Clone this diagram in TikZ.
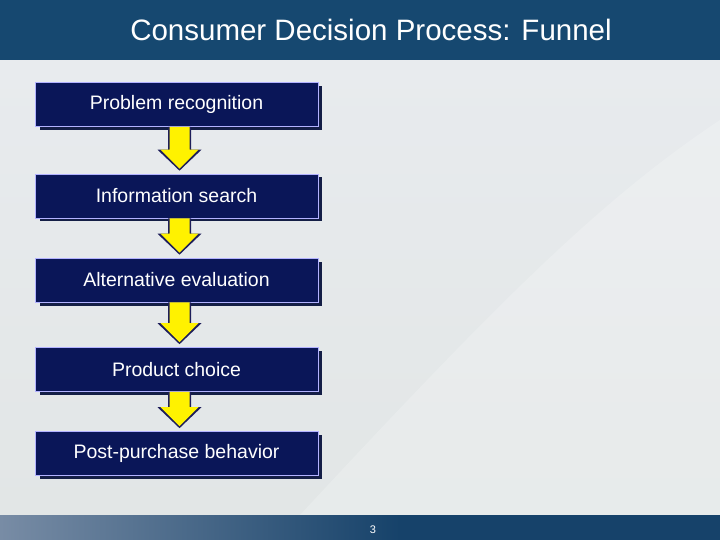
\documentclass[tikz,border=0pt]{standalone}
\usepackage{fontspec}
\setmainfont{Liberation Sans}
\usetikzlibrary{calc}
\definecolor{boxfill}{RGB}{10,22,88}
\definecolor{boxshadow}{RGB}{20,30,70}
\definecolor{bgtop}{RGB}{232,235,238}
\definecolor{bgbot}{RGB}{226,230,230}
\definecolor{titlebar}{RGB}{22,72,112}
\definecolor{footl}{RGB}{120,140,165}
\definecolor{footr}{RGB}{22,66,106}
\definecolor{arrowedge}{RGB}{30,30,90}
\begin{document}
\begin{tikzpicture}[x=1pt,y=-1pt,
  stepbox/.style={draw=blue!30!white,line width=0.6pt,fill=boxfill,text=white,font=\fontsize{19.5}{22}\selectfont,minimum width=283pt,minimum height=44pt,inner sep=0pt},
  shadowbox/.style={fill=boxshadow},
]
\useasboundingbox (0,0) rectangle (720,540);
\shade[top color=bgtop,bottom color=bgbot] (0,60) rectangle (720,515);
\fill[white,opacity=0.2] (300,515) .. controls (500,300) and (600,200) .. (720,120) -- (720,515) -- cycle;
\fill[titlebar] (0,0) rectangle (720,60);
\node[text=white,font=\fontsize{29.5}{34}\selectfont] (title) at (371,30) {Consumer Decision Process: Funnel};
\shade[left color=footl,right color=footr] (0,515) rectangle (400,540);
\fill[footr] (400,515) rectangle (720,540);
\node[text=white,font=\fontsize{11}{12}\selectfont] (pg) at (373,530) {3};
\foreach \n/\y/\t in {b1/104.5/Problem recognition,b2/196/Information search,b3/280/Alternative evaluation,b4/369.5/Product choice,b5/453.5/Post-purchase behavior}{
  \fill[shadowbox] (39.5,\y-18.5) rectangle (321.5,\y+25.5);
  \node[stepbox] (\n) at (176.5,\y) {\t};
}
\foreach \a/\b in {b1/b2,b2/b3,b3/b4,b4/b5}{
  \path (\a.south) ++(3,0) coordinate (s\a);
  \path (\b.north) ++(3,0) coordinate (t\a);
  \fill[arrowedge] ($(s\a)+(-11.5,0)$) -- ($(s\a)+(11.5,0)$) -- ($(t\a)+(11.5,-24)$) -- ($(t\a)+(22,-24)$) -- ($(t\a)+(0,-3)$) -- ($(t\a)+(-22,-24)$) -- ($(t\a)+(-11.5,-24)$) -- cycle;
  \fill[yellow] ($(s\a)+(-10,0)$) -- ($(s\a)+(10,0)$) -- ($(t\a)+(10,-24)$) -- ($(t\a)+(19,-24)$) -- ($(t\a)+(0,-5)$) -- ($(t\a)+(-19,-24)$) -- ($(t\a)+(-10,-24)$) -- cycle;
}
\end{tikzpicture}
\end{document}
